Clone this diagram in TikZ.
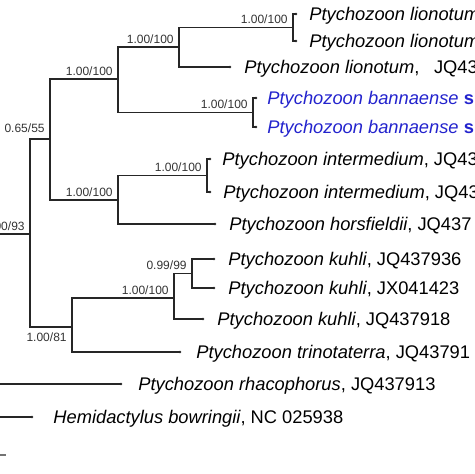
\documentclass[tikz,border=0pt]{standalone}
\usepackage{fontspec}
\setmainfont{Liberation Sans}
\usetikzlibrary{positioning}
\definecolor{sppblue}{RGB}{35,35,205}
\tikzset{
  branch/.style = {line width=0.65pt, draw=black!85},
  taxon/.style  = {font=\fontsize{9.15}{11}\selectfont, inner sep=0pt, yshift=-3.3pt},
  newsp/.style  = {taxon, text=sppblue},
  supp/.style   = {font=\fontsize{6}{7}\selectfont, inner sep=0pt, text=black!80},
  supp_up/.style  = {supp, yshift=1.9pt},
  supp_dn/.style  = {supp, yshift=-7pt}
}

\begin{document}
\begin{tikzpicture}[x=0.5pt, y=-0.5pt]

  \useasboundingbox (0,0) rectangle (474,474);
  \clip (0,0) rectangle (474,474);

  % internal nodes
  \coordinate (rootin) at (-10,234);
  \coordinate (nR)   at (30,234);
  \coordinate (nA)   at (50,139);
  \coordinate (nB)   at (118,79);
  \coordinate (nC)   at (179,47);
  \coordinate (nLio) at (293,27.5);
  \coordinate (nBan) at (253,112.5);
  \coordinate (nI)   at (118,200);
  \coordinate (nInt) at (207,175.5);
  \coordinate (nK3)  at (72,327);
  \coordinate (nK2)  at (174,298);
  \coordinate (nK1)  at (192,273.5);
  \coordinate (out13) at (-10,384);
  \coordinate (out14) at (-10,417);

  % tips
  \coordinate (t1)  at (296,14);
  \coordinate (t2)  at (296,41);
  \coordinate (t3)  at (230,67);
  \coordinate (t4)  at (256,98);
  \coordinate (t5)  at (256,127);
  \coordinate (t6)  at (210,159);
  \coordinate (t7)  at (210,192);
  \coordinate (t8)  at (215,224);
  \coordinate (t9)  at (214,259);
  \coordinate (t10) at (214,288);
  \coordinate (t11) at (203,319);
  \coordinate (t12) at (180,352);
  \coordinate (t13) at (121,384);
  \coordinate (t14) at (32,417);

  % branches
  \draw[branch] (rootin) -- (nR);
  \draw[branch] (nR) |- (nA);
  \draw[branch] (nR) |- (nK3);
  \draw[branch] (nA) |- (nB);
  \draw[branch] (nA) |- (nI);
  \draw[branch] (nB) |- (nC);
  \draw[branch] (nB) |- (nBan);
  \draw[branch] (nC) |- (nLio);
  \draw[branch] (nC) |- (t3);
  \draw[branch] (nLio) |- (t1);
  \draw[branch] (nLio) |- (t2);
  \draw[branch] (nBan) |- (t4);
  \draw[branch] (nBan) |- (t5);
  \draw[branch] (nI) |- (nInt);
  \draw[branch] (nI) |- (t8);
  \draw[branch] (nInt) |- (t6);
  \draw[branch] (nInt) |- (t7);
  \draw[branch] (nK3) |- (nK2);
  \draw[branch] (nK3) |- (t12);
  \draw[branch] (nK2) |- (nK1);
  \draw[branch] (nK2) |- (t11);
  \draw[branch] (nK1) |- (t9);
  \draw[branch] (nK1) |- (t10);
  \draw[branch] (out13) -- (t13);
  \draw[branch] (out14) -- (t14);

  \foreach \t in {t1,t2,t3,t4,t5,t6,t7,t8,t9,t10,t11,t12,t13,t14}
    \fill[black!85] (\t) circle (1.3);

  % support values
  \node[supp_up, base left=2.5pt of nR]   (sR)   {1.00/93};
  \node[supp_up, base left=2.5pt of nA, yshift=1.2pt] (sA) {0.65/55};
  \node[supp_up, base left=2.5pt of nB]   (sB)   {1.00/100};
  \node[supp_up, base left=2.5pt of nC]   (sC)   {1.00/100};
  \node[supp_up, base left=2.5pt of nLio] (sLio) {1.00/100};
  \node[supp_up, base left=2.5pt of nBan] (sBan) {1.00/100};
  \node[supp_up, base left=2.5pt of nI]   (sI)   {1.00/100};
  \node[supp_up, base left=2.5pt of nInt] (sInt) {1.00/100};
  \node[supp_up, base left=2.5pt of nK2]  (sK2)  {1.00/100};
  \node[supp_up, base left=2.5pt of nK1]  (sK1)  {0.99/99};
  \node[supp_dn, base left=2.5pt of nK3]  (sK3)  {1.00/81};

  % taxon labels
  \node[taxon, base right=6.5pt of t1]  (l1)  {\textit{Ptychozoon lionotum}};
  \node[taxon, base right=6.5pt of t2]  (l2)  {\textit{Ptychozoon lionotum}};
  \node[taxon, base right=7pt of t3]    (l3)  {\textit{Ptychozoon lionotum},\hspace{0.8em}JQ43};
  \node[newsp, base right=5.5pt of t4]  (l4)  {\textit{Ptychozoon bannaense} \textbf{s}};
  \node[newsp, base right=5.5pt of t5]  (l5)  {\textit{Ptychozoon bannaense} \textbf{s}};
  \node[taxon, base right=6pt of t6]    (l6)  {\textit{Ptychozoon intermedium}, JQ43};
  \node[taxon, base right=6.5pt of t7]  (l7)  {\textit{Ptychozoon intermedium}, JQ43};
  \node[taxon, base right=7pt of t8]    (l8)  {\textit{Ptychozoon horsfieldii}, JQ437};
  \node[taxon, base right=7pt of t9]    (l9)  {\textit{Ptychozoon kuhli}, JQ437936};
  \node[taxon, base right=7pt of t10]   (l10) {\textit{Ptychozoon kuhli}, JX041423};
  \node[taxon, base right=7pt of t11]   (l11) {\textit{Ptychozoon kuhli}, JQ437918};
  \node[taxon, base right=8pt of t12]   (l12) {\textit{Ptychozoon trinotaterra}, JQ43791};
  \node[taxon, base right=8.5pt of t13] (l13) {\textit{Ptychozoon rhacophorus}, JQ437913};
  \node[taxon, base right=10.5pt of t14] (l14) {\textit{Hemidactylus bowringii}, NC 025938};

  % scale bar end
  \coordinate (sc0) at (-4,455);
  \coordinate (sc1) at (6,455);
  \draw[line width=0.6pt, black!55] (sc0) -- (sc1);

\end{tikzpicture}
\end{document}
